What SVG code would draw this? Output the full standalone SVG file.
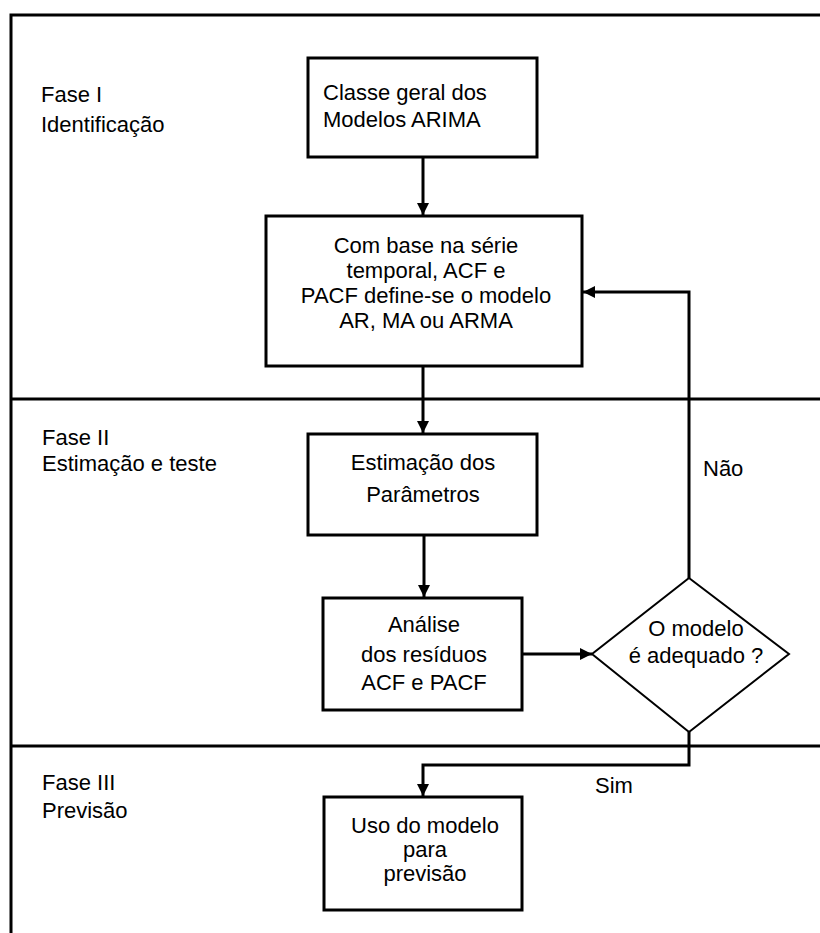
<svg xmlns="http://www.w3.org/2000/svg" width="820" height="933" viewBox="0 0 820 933">
<style>
text{font-family:"Liberation Sans",Arial,sans-serif;font-size:22px;fill:#000}
.c{text-anchor:middle}
.box{fill:#fff;stroke:#000;stroke-width:3}
.dia{fill:#fff;stroke:#000;stroke-width:2}
.ln{fill:none;stroke:#000;stroke-width:3}
.frame{fill:none;stroke:#000;stroke-width:3}
</style>
<defs>
<marker id="ah" viewBox="0 0 12 12" refX="12" refY="6" markerWidth="12" markerHeight="12" markerUnits="userSpaceOnUse" orient="auto">
<path d="M0,0 L12,6 L0,12 Z" fill="#000"/>
</marker>
</defs>
<rect width="820" height="933" fill="#fff"/>
<g id="frame">
<path class="frame" d="M11,933 V15 H820"/>
<line class="frame" x1="11" y1="399" x2="820" y2="399"/>
<line class="frame" x1="11" y1="746" x2="820" y2="746"/>
</g>
<g id="labels">
<text x="41" y="102">Fase I</text>
<text x="41" y="132">Identificação</text>
<text x="42" y="445">Fase II</text>
<text x="42" y="471">Estimação e teste</text>
<text x="42" y="790">Fase III</text>
<text x="42" y="818">Previsão</text>
<text x="703" y="476">Não</text>
<text x="595" y="793">Sim</text>
</g>
<g id="connectors">
<line class="ln" x1="423" y1="157" x2="423" y2="215" marker-end="url(#ah)"/>
<line class="ln" x1="423" y1="366" x2="423" y2="433" marker-end="url(#ah)"/>
<line class="ln" x1="424" y1="535" x2="424" y2="597" marker-end="url(#ah)"/>
<line class="ln" x1="522" y1="654" x2="592" y2="654" marker-end="url(#ah)"/>
<path class="ln" d="M689,578 V292 H583" marker-end="url(#ah)"/>
<path class="ln" d="M689,732 V765 H423 V796" marker-end="url(#ah)"/>
</g>
<g id="n1">
<rect class="box" x="308" y="58" width="229" height="99"/>
<text x="323" y="100">Classe geral dos</text>
<text x="323" y="127">Modelos ARIMA</text>
</g>
<g id="n2">
<rect class="box" x="266" y="216" width="316" height="150"/>
<text class="c" x="426" y="253">Com base na série</text>
<text class="c" x="426" y="278">temporal, ACF e</text>
<text class="c" x="426" y="303">PACF define-se o modelo</text>
<text class="c" x="426" y="328">AR, MA ou ARMA</text>
</g>
<g id="n3">
<rect class="box" x="308" y="434" width="229" height="101"/>
<text class="c" x="423" y="470">Estimação dos</text>
<text class="c" x="423" y="502">Parâmetros</text>
</g>
<g id="n4">
<rect class="box" x="323" y="598" width="199" height="112"/>
<text class="c" x="424" y="632">Análise</text>
<text class="c" x="424" y="662">dos resíduos</text>
<text class="c" x="424" y="690">ACF e PACF</text>
</g>
<g id="n5">
<polygon class="dia" points="689,578 789,654 689,732 592,654"/>
<text class="c" x="696" y="636">O modelo</text>
<text class="c" x="696" y="663">é adequado ?</text>
</g>
<g id="n6">
<rect class="box" x="324" y="797" width="198" height="113"/>
<text class="c" x="425" y="833">Uso do modelo</text>
<text class="c" x="425" y="857">para</text>
<text class="c" x="425" y="881">previsão</text>
</g>
</svg>
